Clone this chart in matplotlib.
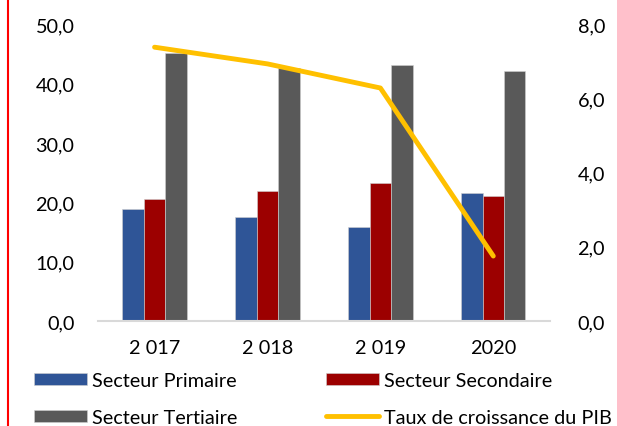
import numpy as np
import matplotlib
matplotlib.use('Agg')
import matplotlib.pyplot as plt
from matplotlib.lines import Line2D
import matplotlib.ticker as ticker

# ── Data ──────────────────────────────────────────────────────────────────────
years      = ['2 017', '2 018', '2 019', '2020']
primaire   = [18.9, 17.5, 15.8, 21.6]
secondaire = [20.5, 21.9, 23.3, 21.0]
tertiaire  = [45.1, 42.6, 43.1, 42.1]
taux_pib   = [7.38, 6.93, 6.28, 1.75]

COLORS = {
    'primaire':   '#2F5597',
    'secondaire': '#9C0000',
    'tertiaire':  '#595959',
    'taux':       '#FFC000',
    'axis':       '#D9D9D9',
    'text':       '#000000',
}
FS = 14.3

plt.rcParams['font.family'] = ['Lato', 'DejaVu Sans']

fig = plt.figure(figsize=(6.17, 4.27), dpi=100)
ax = fig.add_axes([0.159, 0.246, 0.732, 0.695])

x = np.arange(len(years))
w = 0.19
ax.bar(x - w, primaire, w, color=COLORS['primaire'], edgecolor='#d0d0d0', linewidth=0.4,
       label='Secteur Primaire', zorder=2)
ax.bar(x, secondaire, w, color=COLORS['secondaire'], edgecolor='#d0d0d0', linewidth=0.4,
       label='Secteur Secondaire', zorder=2)
ax.bar(x + w, tertiaire, w, color=COLORS['tertiaire'], edgecolor='#d0d0d0', linewidth=0.4,
       label='Secteur Tertiaire', zorder=2)

ax.set_xlim(-0.5, len(years) - 0.5)
ax.set_ylim(0, 50)
ax.yaxis.set_major_locator(ticker.MultipleLocator(10))
fmt = ticker.FuncFormatter(lambda v, p: f'{v:.1f}'.replace('.', ','))
ax.yaxis.set_major_formatter(fmt)
ax.set_xticks(x)
ax.set_xticklabels(years)

for s in ['top', 'right', 'left']:
    ax.spines[s].set_visible(False)
ax.spines['bottom'].set_color(COLORS['axis'])
ax.spines['bottom'].set_linewidth(1.5)
ax.tick_params(length=0, labelsize=FS, colors=COLORS['text'])
ax.tick_params(axis='y', pad=17)
ax.tick_params(axis='x', pad=13)

ax2 = ax.twinx()
ax2.plot(x, taux_pib, color=COLORS['taux'], linewidth=3.5, solid_capstyle='round',
         label='Taux de croissance du PIB', zorder=3)
ax2.set_ylim(0, 8)
ax2.yaxis.set_major_locator(ticker.MultipleLocator(2))
ax2.yaxis.set_major_formatter(fmt)
for s in ['top', 'right', 'left', 'bottom']:
    ax2.spines[s].set_visible(False)
ax2.tick_params(length=0, labelsize=FS, pad=20, colors=COLORS['text'])

# legend (column-major fill: P, T | S, Taux)
h1, l1 = ax.get_legend_handles_labels()
h2, l2 = ax2.get_legend_handles_labels()
handles = [h1[0], h1[2], h1[1], h2[0]]
labels = [l1[0], l1[2], l1[1], l2[0]]
fig.legend(handles, labels, ncol=2, loc='upper left', bbox_to_anchor=(0.055, 0.127),
           frameon=False, fontsize=FS, handlelength=2.65, handleheight=0.55,
           handletextpad=0.25, columnspacing=4.5, labelspacing=1.0, borderpad=0,
           borderaxespad=0)

# red margin line on the left
fig.add_artist(Line2D([0.013, 0.013], [0, 1], transform=fig.transFigure,
                      color='#FF0000', linewidth=1.5))

fig.savefig('out.png', dpi=100, facecolor='white')
